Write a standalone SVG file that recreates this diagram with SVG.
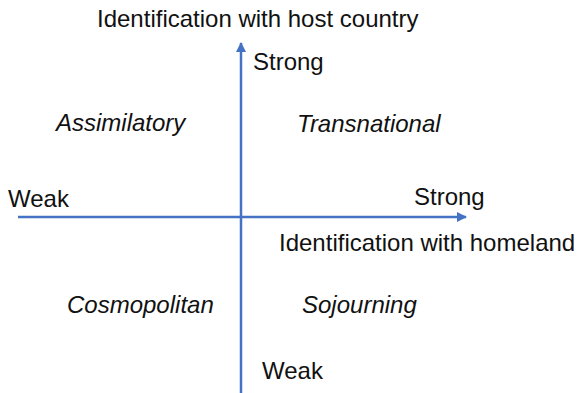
<svg xmlns="http://www.w3.org/2000/svg" width="578" height="393" viewBox="0 0 578 393">
<defs>
<style>
text{font-family:"Liberation Sans",Arial,sans-serif;font-size:24px;fill:#111}
.it{font-style:italic}
.ax{stroke:#4472C4;stroke-width:2.5;fill:none}
</style>
<marker id="ah" viewBox="0 0 10 10" refX="9" refY="5" markerWidth="4" markerHeight="4" orient="auto" markerUnits="strokeWidth">
<path d="M0,0L10,5L0,10z" fill="#4472C4"/>
</marker>
</defs>
<rect width="578" height="393" fill="#fff"/>
<g id="connectors">
<line class="ax" x1="241" y1="393" x2="241" y2="43" marker-end="url(#ah)"/>
<line class="ax" x1="18" y1="217" x2="466" y2="217" marker-end="url(#ah)"/>
</g>
<g id="labels">
<text x="97" y="27">Identification with host country</text>
<text x="253" y="70">Strong</text>
<text x="8" y="207">Weak</text>
<text x="414" y="205">Strong</text>
<text x="279" y="251">Identification with homeland</text>
<text x="262" y="379">Weak</text>
</g>
<g id="assimilatory"><text class="it" x="56" y="131">Assimilatory</text></g>
<g id="transnational"><text class="it" x="297" y="132">Transnational</text></g>
<g id="cosmopolitan"><text class="it" x="67" y="313">Cosmopolitan</text></g>
<g id="sojourning"><text class="it" x="302" y="313">Sojourning</text></g>
</svg>
